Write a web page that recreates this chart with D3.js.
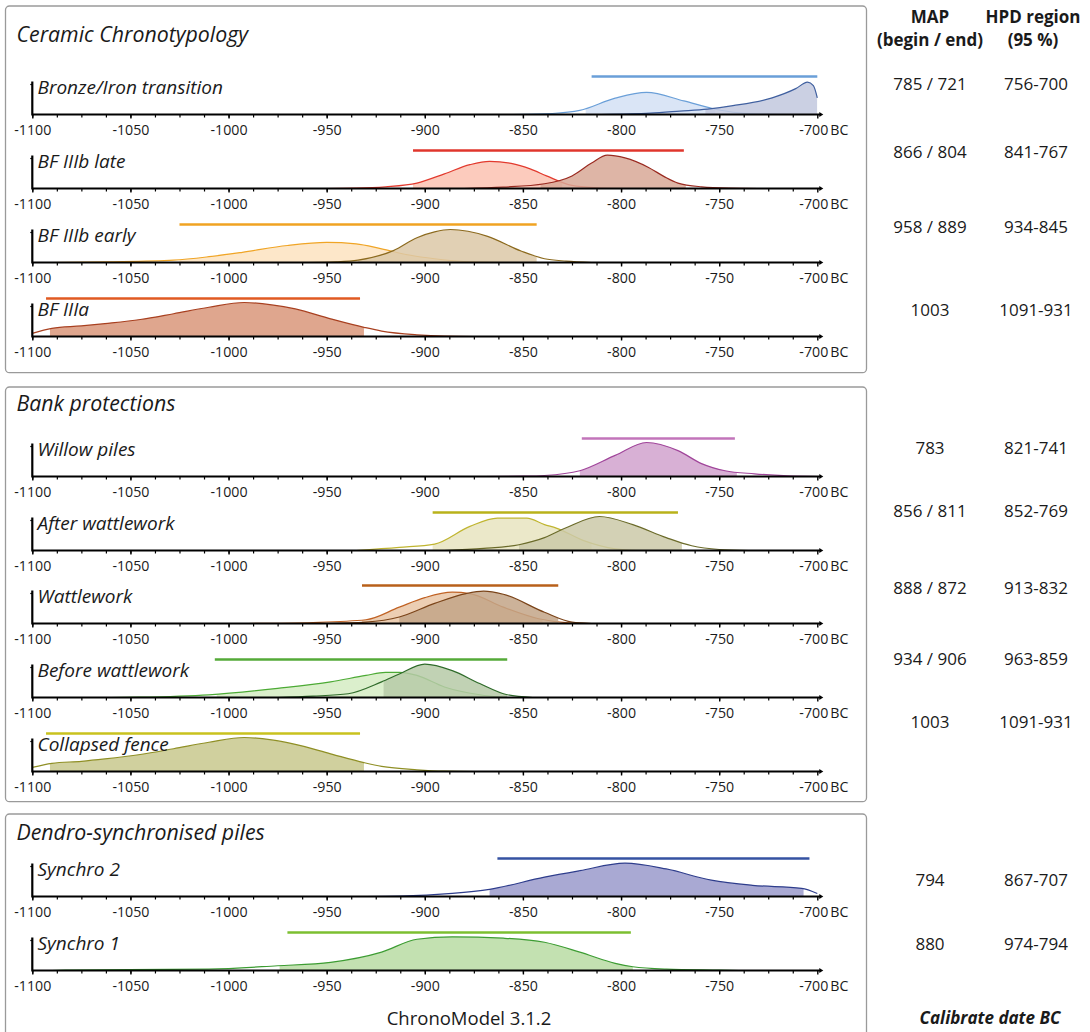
<!DOCTYPE html>
<html><head><meta charset="utf-8">
<script src="https://cdn.jsdelivr.net/npm/d3@7"></script>
<style>
body{margin:0;background:#fff}
svg{display:block}
text{font-family:"Open Sans",sans-serif;fill:#1a1a1a}
</style>
</head><body>
<svg id="c" width="1090" height="1032"></svg>
<script>
// ---------------- DATA ----------------
const panelTitles = ["Ceramic Chronotypology", "Bank protections", "Dendro-synchronised piles"];
const rowLabels = ["Bronze/Iron transition", "BF IIIb late", "BF IIIb early", "BF IIIa",
  "Willow piles", "After wattlework", "Wattlework", "Before wattlework", "Collapsed fence",
  "Synchro 2", "Synchro 1"];
const rowPanel = [0, 0, 0, 0, 1, 1, 1, 1, 1, 2, 2];
const mapValues = ["785 / 721", "866 / 804", "958 / 889", "1003", "783", "856 / 811",
  "888 / 872", "934 / 906", "1003", "794", "880"];
const hpdValues = ["756-700", "841-767", "934-845", "1091-931", "821-741", "852-769",
  "913-832", "963-859", "1091-931", "867-707", "974-794"];
const xTicks = [-1100, -1050, -1000, -950, -900, -850, -800, -750, -700];
// HPD bars drawn above each row (years)
const hpdBars = [[-815, -700], [-906, -768], [-1025, -843], [-1093, -933], [-820, -742],
  [-896, -771], [-932, -832], [-1007, -858], [-1093, -933], [-863, -704], [-970, -795]];
// posterior densities (year, relative density) ; begin = first curve, end = second curve
const beginCurves = [
  [[-855,0],[-835,0.03],[-821,0.12],[-803,0.48],[-787,0.65],[-768,0.4],[-753,0.17],[-740,0.05],[-725,0.01],[-710,0]],
  [[-950,0],[-935,0.01],[-920,0.05],[-904,0.16],[-890,0.43],[-877,0.7],[-867,0.8],[-856,0.74],[-846,0.57],[-838,0.37],[-825,0.09],[-812,0.02],[-800,0]],
  [[-1090,0],[-1060,0.02],[-1028,0.07],[-1010,0.17],[-993,0.3],[-970,0.5],[-950,0.59],[-935,0.55],[-922,0.4],[-908,0.22],[-895,0.11],[-880,0.03],[-860,0]],
  [[-1100,0.09],[-1090,0.24],[-1075,0.31],[-1063,0.38],[-1045,0.5],[-1028,0.67],[-1010,0.86],[-992,1.0],[-978,0.93],[-966,0.81],[-948,0.52],[-931,0.27],[-922,0.16],[-904,0.05],[-890,0.01],[-875,0]],
  [[-870,0],[-850,0.01],[-839,0.03],[-821,0.17],[-803,0.62],[-787,1.0],[-771,0.76],[-759,0.38],[-747,0.17],[-732,0.08],[-715,0.02],[-700,0]],
  [[-935,0],[-913,0.09],[-895,0.19],[-877,0.71],[-863,0.95],[-848,0.95],[-839,0.76],[-833,0.66],[-819,0.29],[-803,0.05],[-790,0]],
  [[-990,0],[-957,0.03],[-930,0.11],[-913,0.48],[-900,0.76],[-886,0.92],[-877,0.88],[-860,0.48],[-842,0.14],[-825,0.01],[-818,0]],
  [[-1060,0],[-1046,0.01],[-1010,0.08],[-975,0.27],[-948,0.46],[-930,0.65],[-920,0.74],[-913,0.74],[-904,0.65],[-890,0.31],[-872,0.08],[-860,0]],
  [[-1100,0.12],[-1090,0.24],[-1075,0.3],[-1063,0.37],[-1045,0.5],[-1028,0.67],[-1010,0.86],[-992,1.0],[-978,0.93],[-966,0.8],[-948,0.52],[-931,0.26],[-922,0.15],[-904,0.05],[-890,0.01],[-875,0]],
  [[-930,0],[-913,0.01],[-886,0.09],[-867,0.21],[-839,0.57],[-821,0.76],[-798,0.98],[-777,0.81],[-754,0.48],[-733,0.33],[-708,0.24],[-700,0.09]],
  [[-1090,0],[-1081,0.01],[-1010,0.04],[-975,0.14],[-948,0.24],[-922,0.54],[-904,0.92],[-886,0.99],[-860,0.95],[-839,0.83],[-821,0.54],[-803,0.21],[-794,0.11],[-777,0.04],[-750,0.01],[-740,0]]
];
const endCurves = [
  [[-810,0],[-785,0.04],[-770,0.1],[-756,0.16],[-743,0.26],[-723,0.49],[-711,0.76],[-705,0.95],[-702,0.85],[-700,0.49]],
  [[-880,0],[-860,0.04],[-839,0.14],[-825,0.37],[-815,0.75],[-807,0.98],[-798,0.9],[-786,0.62],[-778,0.35],[-771,0.16],[-759,0.05],[-745,0.01],[-730,0]],
  [[-960,0],[-945,0.02],[-934,0.07],[-916,0.35],[-904,0.73],[-895,0.9],[-887,0.97],[-878,0.92],[-868,0.77],[-851,0.34],[-839,0.11],[-828,0.04],[-815,0]],
  null,
  null,
  [[-890,0],[-870,0.06],[-852,0.17],[-839,0.38],[-828,0.67],[-811,1.0],[-794,0.76],[-777,0.38],[-764,0.14],[-750,0.03],[-735,0]],
  [[-950,0],[-930,0.04],[-913,0.19],[-895,0.59],[-879,0.88],[-870,0.95],[-860,0.86],[-839,0.33],[-825,0.04],[-815,0]],
  [[-975,0],[-957,0.04],[-939,0.11],[-922,0.46],[-913,0.69],[-900,0.98],[-886,0.79],[-872,0.41],[-858,0.08],[-845,0]],
  null,
  null,
  null
];
// HPD (95 %) interval of each curve, filled under the density
const beginHpd = [[-818,-752],[-906,-830],[-1025,-880],[-1091,-931],[-821,-741],[-896,-815],[-932,-840],[-1006,-870],[-1091,-931],[-867,-707],[-974,-794]];
const endHpd = [[-757,-700],[-841,-767],[-934,-843],null,null,[-852,-769],[-913,-832],[-921,-858],null,null,null];

// ---------------- STYLE / LAYOUT ----------------
const barColors = ["#6a9fd8","#e0362c","#f0a322","#e05a22","#c274ba","#b9b21a","#b8601a","#55aa38","#c9c21e","#3552a2","#7cbf30"];
const beginFill = ["#d4e0f4","#fbc2b1","#fde3bf","#d9977a","#d1a2ce","#e7e4bf","#e9c5a6","#d5ecc3","#c8c88d","#9a9acb","#b9dca3"];
const beginStroke = ["#6a9fd8","#e23a2e","#f0a526","#a84020","#a0459a","#c0b530","#c06224","#4caa35","#8f8f25","#2e3d8c","#3c9c32"];
const endFill = ["#c2c8de","#d8a897","#dcc8a7",null,null,"#cbc9a8","#c3a487","#b6caa7",null,null,null];
const endStroke = ["#3f5f9f","#9a2a20","#8c6a1e",null,null,"#6b6b2a","#7a4318","#2f6b2a",null,null,null];

const panelBox = [[6, 372.7], [387, 801.7], [814, 1045]];
const titleY = [41.5, 410.5, 839.5];
const axisY = [114.5, 188.5, 262.5, 336.5, 476.5, 550.5, 623.5, 697.5, 771.5, 896.5, 970.5];
const tableY = [84.3, 151.7, 227.3, 310, 448.3, 511, 588, 659, 721.7, 880, 944];
const mapX = 930, hpdX = 1036;

const svg = d3.select("#c");
const x = d3.scaleLinear().domain([-1100, -700]).range([32.3, 817.3]);
const defs = svg.append("defs");

// panels
panelBox.forEach((b, i) => {
  svg.append("rect").attr("x", 5.5).attr("y", b[0]).attr("width", 861).attr("height", b[1] - b[0])
    .attr("rx", 4).attr("fill", "none").attr("stroke", "#9a9a9a").attr("stroke-width", 1.3);
  svg.append("text").attr("x", 16.5).attr("y", titleY[i]).attr("font-size", 21.3)
    .attr("font-style", "italic").text(panelTitles[i]);
});

function drawCurve(g, pts, hpd, fill, stroke, y, id) {
  const area = d3.area().x(d => x(d[0])).y0(y(0)).y1(d => y(d[1])).curve(d3.curveMonotoneX);
  const line = d3.line().x(d => x(d[0])).y(d => y(d[1])).curve(d3.curveMonotoneX);
  defs.append("clipPath").attr("id", id).append("rect")
    .attr("x", x(hpd[0])).attr("width", x(hpd[1]) - x(hpd[0]))
    .attr("y", y(1.3)).attr("height", y(0) - y(1.3));
  g.append("path").datum(pts).attr("d", area).attr("fill", fill).attr("fill-opacity", 0.85)
    .attr("clip-path", `url(#${id})`);
  g.append("path").datum(pts).attr("d", line).attr("fill", "none").attr("stroke", stroke)
    .attr("stroke-width", 1.2);
}

rowLabels.forEach((lab, i) => {
  const ay = axisY[i];
  const y = d3.scaleLinear().domain([0, 1]).range([ay, ay - 34]);
  const g = svg.append("g");

  // densities
  drawCurve(g, beginCurves[i], beginHpd[i], beginFill[i], beginStroke[i], y, "cb" + i);
  if (endCurves[i]) drawCurve(g, endCurves[i], endHpd[i], endFill[i], endStroke[i], y, "ce" + i);

  // HPD bar
  g.append("line").attr("x1", x(hpdBars[i][0])).attr("x2", x(hpdBars[i][1]))
    .attr("y1", ay - 38).attr("y2", ay - 38).attr("stroke", barColors[i]).attr("stroke-width", 2.4);

  // minor ticks
  const minor = d3.axisBottom(x).tickValues(d3.range(-1100, -700, 12.5)).tickSize(3).tickFormat("");
  const gm = g.append("g").attr("transform", `translate(0,${ay})`).call(minor);
  gm.select(".domain").remove();
  gm.selectAll("line").attr("stroke", "#000").attr("stroke-width", 1.2);

  // major ticks + labels
  const major = d3.axisBottom(x).tickValues(xTicks).tickSize(4).tickPadding(4)
    .tickFormat(d => String(d));
  const ga = g.append("g").attr("transform", `translate(0,${ay})`).call(major);
  ga.select(".domain").remove();
  ga.selectAll("line").attr("stroke", "#000").attr("stroke-width", 1.4);
  ga.selectAll("text").attr("font-size", 14.2).attr("font-family", "'Open Sans',sans-serif")
    .attr("fill", "#1a1a1a").attr("dy", "0.88em");
  ga.selectAll(".tick").filter(d => d === -700).select("text").attr("dx", "-4");
  g.append("text").attr("x", x(-700) + 13).attr("y", ay + 20.5).attr("font-size", 14.2).text("BC");

  // axis line with arrow
  g.append("line").attr("x1", x(-1100)).attr("x2", x(-700) + 3).attr("y1", ay).attr("y2", ay)
    .attr("stroke", "#000").attr("stroke-width", 2.2);
  g.append("path").attr("d", `M${x(-700) + 6},${ay} L${x(-700) + 2},${ay - 2.5} L${x(-700) + 2},${ay + 2.5} Z`)
    .attr("fill", "#000");

  // y axis
  g.append("line").attr("x1", x(-1100)).attr("x2", x(-1100)).attr("y1", ay + 1).attr("y2", ay - 33)
    .attr("stroke", "#000").attr("stroke-width", 2.2);
  g.append("line").attr("x1", x(-1100) - 2).attr("x2", x(-1100)).attr("y1", ay - 30).attr("y2", ay - 30)
    .attr("stroke", "#000").attr("stroke-width", 1.2);

  // row label
  g.append("text").attr("x", 37.5).attr("y", ay - 20.5).attr("font-size", 19)
    .attr("font-style", "italic").text(lab);

  // table values
  svg.append("text").attr("x", mapX).attr("y", tableY[i] + 6).attr("text-anchor", "middle")
    .attr("font-size", 17).text(mapValues[i]);
  svg.append("text").attr("x", hpdX).attr("y", tableY[i] + 6).attr("text-anchor", "middle")
    .attr("font-size", 17).text(hpdValues[i]);
});

// table header
[["MAP", mapX, 23], ["(begin / end)", mapX, 46], ["HPD region", 1033, 23], ["(95 %)", 1033, 46]]
  .forEach(t => svg.append("text").attr("x", t[1]).attr("y", t[2]).attr("text-anchor", "middle")
    .attr("font-size", 17).attr("font-weight", "bold").text(t[0]));

svg.append("text").attr("x", 469).attr("y", 1024.5).attr("text-anchor", "middle")
  .attr("font-size", 18.5).text("ChronoModel 3.1.2");
svg.append("text").attr("x", 990).attr("y", 1024).attr("text-anchor", "middle")
  .attr("font-size", 17).attr("font-weight", "bold").attr("font-style", "italic").text("Calibrate date BC");
</script>
</body></html>
